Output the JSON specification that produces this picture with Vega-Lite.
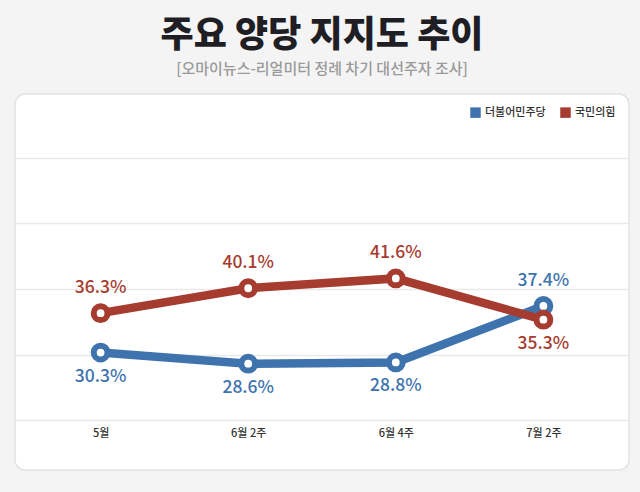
{
  "$schema": "https://vega.github.io/schema/vega-lite/v6.json",
  "width": 614,
  "height": 376,
  "autosize": {"type": "none"},
  "padding": {"left": 15, "top": 94, "right": 11, "bottom": 22},
  "background": "#f4f4f4",
  "title": {
    "text": "주요 양당 지지도 추이",
    "subtitle": "[오마이뉴스-리얼미터 정례 차기 대선주자 조사]",
    "anchor": "middle",
    "font": "Noto Sans CJK KR",
    "fontSize": 36,
    "fontWeight": 900,
    "color": "#1e1e24",
    "subtitleFont": "Noto Sans CJK KR",
    "subtitleFontSize": 15,
    "subtitleFontWeight": 500,
    "subtitleColor": "#9a9a9a",
    "subtitlePadding": 7,
    "offset": 16
  },
  "config": {
    "view": {"fill": "white", "stroke": "#e2e2e2", "strokeWidth": 1.5, "cornerRadius": 10},
    "font": "Noto Sans CJK KR"
  },
  "data": {
    "values": [
      {"period": "5월", "party": "더불어민주당", "value": 30.3},
      {"period": "6월 2주", "party": "더불어민주당", "value": 28.6},
      {"period": "6월 4주", "party": "더불어민주당", "value": 28.8},
      {"period": "7월 2주", "party": "더불어민주당", "value": 37.4},
      {"period": "5월", "party": "국민의힘", "value": 36.3},
      {"period": "6월 2주", "party": "국민의힘", "value": 40.1},
      {"period": "6월 4주", "party": "국민의힘", "value": 41.6},
      {"period": "7월 2주", "party": "국민의힘", "value": 35.3}
    ]
  },
  "transform": [{"calculate": "format(datum.value, '.1f') + '%'", "as": "label"}],
  "encoding": {
    "x": {
      "field": "period",
      "type": "ordinal",
      "sort": ["5월", "6월 2주", "6월 4주", "7월 2주"],
      "scale": {"type": "point", "padding": 0.58},
      "axis": {
        "title": null,
        "domain": false,
        "ticks": false,
        "labelAngle": 0,
        "labelFontSize": 11,
        "labelFontWeight": 500,
        "labelColor": "#333333",
        "labelPadding": 0,
        "offset": -43
      }
    },
    "y": {
      "field": "value",
      "type": "quantitative",
      "scale": {"domain": [12.4, 69.7], "nice": false, "zero": false},
      "axis": {
        "title": null,
        "values": [20, 30, 40, 50, 60],
        "labels": false,
        "ticks": false,
        "domain": false,
        "gridColor": "#e9e9e9",
        "gridWidth": 1.5
      }
    },
    "color": {
      "field": "party",
      "type": "nominal",
      "scale": {"domain": ["더불어민주당", "국민의힘"], "range": ["#3e73ae", "#a63b2f"]},
      "legend": {
        "title": null,
        "orient": "top-right",
        "direction": "horizontal",
        "symbolType": "square",
        "symbolSize": 110,
        "symbolStrokeWidth": 0,
        "symbolOpacity": 1,
        "labelFontSize": 11,
        "labelFontWeight": 500,
        "labelColor": "#333333",
        "columnPadding": 14,
        "offset": 13,
        "padding": 0
      }
    }
  },
  "layer": [
    {
      "mark": {"type": "line", "strokeWidth": 8.5}
    },
    {
      "mark": {"type": "point", "shape": "circle", "filled": false, "fill": "white", "fillOpacity": 1, "size": 190, "strokeWidth": 6, "opacity": 1}
    },
    {
      "transform": [{"filter": "(datum.party == '국민의힘') != (datum.period == '7월 2주')"}],
      "mark": {"type": "text", "dy": -25, "fontSize": 17.5, "fontWeight": 500},
      "encoding": {"text": {"field": "label", "type": "nominal"}}
    },
    {
      "transform": [{"filter": "(datum.party == '국민의힘') == (datum.period == '7월 2주')"}],
      "mark": {"type": "text", "dy": 24, "fontSize": 17.5, "fontWeight": 500},
      "encoding": {"text": {"field": "label", "type": "nominal"}}
    }
  ]
}
